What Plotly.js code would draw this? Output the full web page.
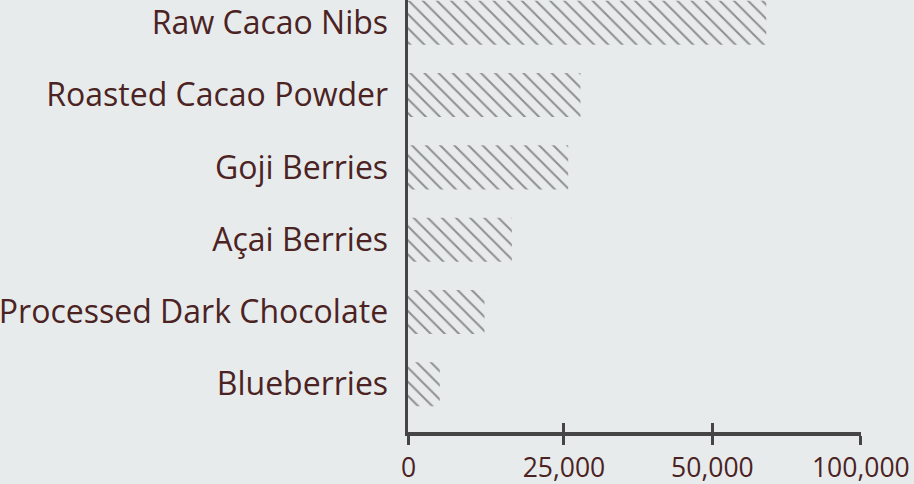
<!DOCTYPE html>
<html>
<head>
<meta charset="utf-8">
<script src="https://cdn.plot.ly/plotly-3.0.1.min.js"></script>
<style>
  html, body { margin: 0; padding: 0; background: #e8ebec; }
  #chart { width: 914px; height: 484px; }
</style>
</head>
<body>
<div id="chart"></div>
<script>
// Data (top to bottom)
const categories = [
  "Raw Cacao Nibs",
  "Roasted Cacao Powder",
  "Goji Berries",
  "Açai Berries",
  "Processed Dark Chocolate",
  "Blueberries"
];
const values = [64300, 27000, 25500, 19600, 17250, 14000];

// X axis ticks
const tickValues = [12100, 25000, 50000, 100000];
const tickLabels = ["0", "25,000", "50,000", "100,000"];

const bg = "#e8ebec";
const textColor = "#4b2323";
const axisColor = "#454545";
const xRange = [4.0817, 5.0003];
const yRange = [5.66, -0.315];

const traces = [
  {
    type: "bar",
    orientation: "h",
    x: values,
    y: categories,
    marker: {
      color: bg,
      line: { width: 0 },
      pattern: {
        shape: "\\",
        size: 10,
        solidity: 0.2,
        fgcolor: "#333333",
        bgcolor: bg,
        fillmode: "overlay"
      }
    },
    hoverinfo: "skip",
    showlegend: false
  },
  {
    // helper trace so the inside-tick overlay axis is drawn
    type: "scatter",
    mode: "markers",
    x: [tickValues[1]],
    y: [categories[0]],
    xaxis: "x2",
    marker: { opacity: 0, size: 1 },
    hoverinfo: "skip",
    showlegend: false
  }
];

const layout = {
  width: 914,
  height: 484,
  paper_bgcolor: bg,
  plot_bgcolor: bg,
  margin: { l: 408, r: 53, t: 0, b: 52, pad: 0 },
  font: { family: "'Open Sans', sans-serif", color: textColor },
  bargap: 0.391,
  showlegend: false,
  xaxis: {
    type: "log",
    range: xRange,
    tickmode: "array",
    tickvals: tickValues,
    ticktext: tickLabels,
    ticks: "outside",
    ticklen: 9,
    tickwidth: 3,
    tickcolor: axisColor,
    showline: true,
    linecolor: axisColor,
    linewidth: 3.5,
    showgrid: false,
    zeroline: false,
    tickfont: { size: 26.5, color: textColor },
    ticklabelstandoff: 1,
    fixedrange: true
  },
  xaxis2: {
    type: "log",
    range: xRange,
    overlaying: "x",
    anchor: "y",
    side: "bottom",
    tickmode: "array",
    tickvals: tickValues,
    ticks: "inside",
    ticklen: 9,
    tickwidth: 3,
    tickcolor: axisColor,
    showticklabels: false,
    showline: false,
    showgrid: false,
    zeroline: false,
    fixedrange: true
  },
  yaxis: {
    type: "category",
    categoryorder: "array",
    categoryarray: categories,
    range: yRange,
    ticks: "",
    showline: true,
    linecolor: axisColor,
    linewidth: 3.5,
    showgrid: false,
    zeroline: false,
    tickfont: { size: 32, color: textColor },
    ticklabelstandoff: 10,
    fixedrange: true
  }
};

Plotly.newPlot("chart", traces, layout, { displayModeBar: false, staticPlot: true });
</script>
</body>
</html>
